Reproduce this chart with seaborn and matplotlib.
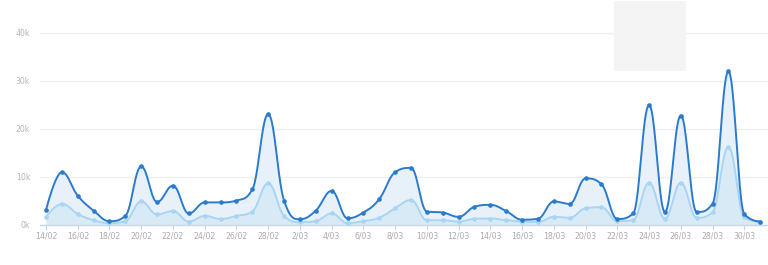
import numpy as np
import pandas as pd
import matplotlib
matplotlib.use("Agg")
import matplotlib.pyplot as plt
from matplotlib.patches import Rectangle
import seaborn as sns

# ---- data (values in thousands) ----
dates = pd.date_range("2015-02-14", "2015-03-31", freq="D")
total = [3.1, 11.0, 6.1, 3.0, 0.8, 1.9, 12.2, 4.8, 8.2, 2.4, 4.7, 4.7, 5.1, 7.4, 23.1,
         5.1, 1.2, 3.0, 7.1, 1.4, 2.6, 5.4, 11.0, 11.9, 2.8, 2.6, 1.7, 3.8, 4.2, 2.9,
         1.1, 1.3, 4.9, 4.4, 9.7, 8.5, 1.25, 2.4, 25.0, 2.7, 22.8, 2.7, 4.4, 32.0, 2.3, 0.7]
subset = [1.7, 4.4, 2.3, 1.0, 0.4, 0.8, 4.9, 2.2, 2.9, 0.7, 1.9, 1.25, 1.9, 2.8, 8.7,
          1.9, 0.6, 0.8, 2.4, 0.4, 0.8, 1.5, 3.5, 5.2, 1.0, 1.0, 0.7, 1.3, 1.35, 1.0,
          0.7, 0.6, 1.7, 1.5, 3.5, 3.7, 0.8, 1.0, 8.8, 1.3, 8.8, 1.5, 2.7, 16.3, 1.6, 0.7]
y_ticks = [0, 10, 20, 30, 40]
y_labels = ["0k", "10k", "20k", "30k", "40k"]

DARK = "#2b7bcd"
LIGHT = "#a9d5f2"


def spline(xs, ys, n=24):
    xs = np.asarray(xs, float)
    ys = np.asarray(ys, float)
    m = len(xs)
    lc = [(xs[i], ys[i]) for i in range(m)]
    rc = [(xs[i], ys[i]) for i in range(m)]
    for i in range(1, m - 1):
        px, py = xs[i], ys[i]
        lx, ly = xs[i - 1], ys[i - 1]
        nx, ny = xs[i + 1], ys[i + 1]
        lcx = (1.5 * px + lx) / 2.5
        lcy = (1.5 * py + ly) / 2.5
        rcx = (1.5 * px + nx) / 2.5
        rcy = (1.5 * py + ny) / 2.5
        if rcx != lcx:
            corr = (rcy - lcy) * (rcx - px) / (rcx - lcx) + py - rcy
            lcy += corr
            rcy += corr
        if lcy > ly and lcy > py:
            lcy = max(ly, py); rcy = 2 * py - lcy
        elif lcy < ly and lcy < py:
            lcy = min(ly, py); rcy = 2 * py - lcy
        if rcy > ny and rcy > py:
            rcy = max(ny, py); lcy = 2 * py - rcy
        elif rcy < ny and rcy < py:
            rcy = min(ny, py); lcy = 2 * py - rcy
        lc[i] = (lcx, lcy)
        rc[i] = (rcx, rcy)
    outx, outy = [], []
    t = np.linspace(0, 1, n)
    for i in range(m - 1):
        p0 = np.array([xs[i], ys[i]])
        p1 = np.array(rc[i])
        p2 = np.array(lc[i + 1])
        p3 = np.array([xs[i + 1], ys[i + 1]])
        b = ((1 - t) ** 3)[:, None] * p0 + (3 * (1 - t) ** 2 * t)[:, None] * p1 + \
            (3 * (1 - t) * t ** 2)[:, None] * p2 + (t ** 3)[:, None] * p3
        if i > 0:
            b = b[1:]
        outx.extend(b[:, 0]); outy.extend(b[:, 1])
    return np.array(outx), np.array(outy)


sns.set_theme(style="white")
plt.rcParams['font.family'] = ['DejaVu Sans']

fig = plt.figure(figsize=(7.68, 2.65), dpi=100)
ax = fig.add_axes([40 / 768, 40 / 265, 728 / 768, 201.6 / 265])

xi = np.arange(len(dates), dtype=float)
tx, ty = spline(xi, total)
sx, sy = spline(xi, subset)

ax.fill_between(tx, 0, ty, color="#e8f1fa", lw=0, zorder=1)
ax.fill_between(sx, 0, sy, color="#d9eaf7", lw=0, zorder=2)

sns.lineplot(x=sx, y=sy, sort=False, ax=ax, color=LIGHT, lw=1.4, zorder=3)
sns.scatterplot(x=xi, y=subset, ax=ax, color=LIGHT, s=11, linewidth=0, zorder=4)
sns.lineplot(x=tx, y=ty, sort=False, ax=ax, color=DARK, lw=1.4, zorder=5)
sns.scatterplot(x=xi, y=total, ax=ax, color=DARK, s=11, linewidth=0, zorder=6)

ax.set_xlim(-6 / 15.87, 722 / 15.87)
ax.set_ylim(0, 42)
ax.set_yticks(y_ticks)
ax.set_yticklabels(y_labels)
tick_pos = xi[::2]
ax.set_xticks(tick_pos)
ax.set_xticklabels([f"{d.day}/{d.month:02d}" for d in dates[::2]])
ax.set_xlabel("")
ax.set_ylabel("")

ax.grid(axis="y", color="#efefef", lw=1)
ax.set_axisbelow(True)
for s in ["top", "right", "left"]:
    ax.spines[s].set_visible(False)
ax.spines["bottom"].set_color("#c8d6e3")
ax.spines["bottom"].set_linewidth(1)
ax.tick_params(axis="x", colors="#c8d6e3", labelsize=5.6, length=3.6, width=0.8,
               direction="out", pad=1.2, bottom=True)
ax.tick_params(axis="x", labelcolor="#ababab")
ax.tick_params(axis="y", colors="#b5b5b5", labelsize=5.6, length=0, pad=7)

fig.patches.append(Rectangle((614 / 768, 1 - 71 / 265), 72 / 768, 70 / 265,
                             transform=fig.transFigure, facecolor="#f4f4f4",
                             edgecolor="none", zorder=10))

fig.savefig("out.png", dpi=100)
